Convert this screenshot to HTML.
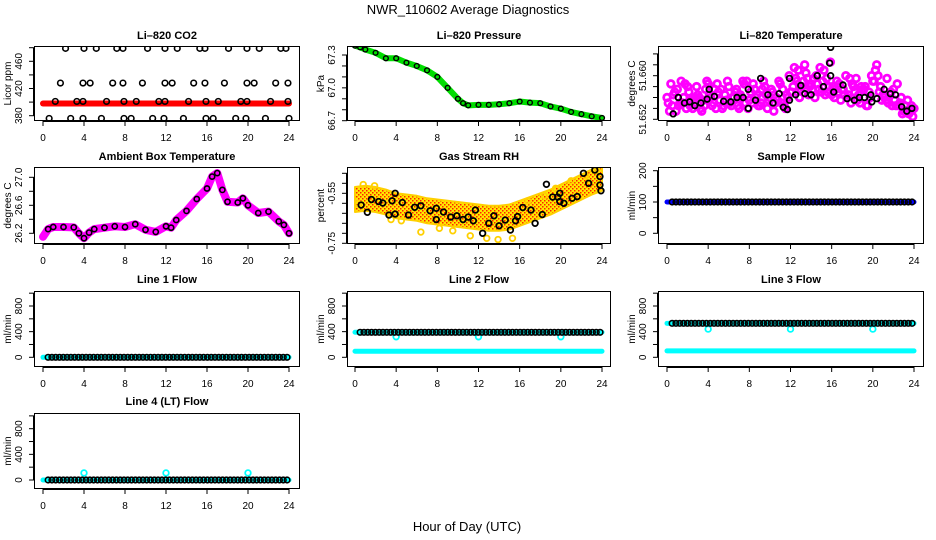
<!DOCTYPE html>
<html><head><meta charset="utf-8">
<style>
html,body{margin:0;padding:0;background:#fff;}
svg{display:block;font-family:"Liberation Sans",sans-serif;}
</style></head>
<body>
<svg id="chart" width="936" height="540" viewBox="0 0 936 540" xmlns="http://www.w3.org/2000/svg">
<defs>
<pattern id="rhpat" width="4" height="4" patternUnits="userSpaceOnUse">
<rect width="4" height="4" fill="#ffe800"/>
<rect width="1.5" height="1.5" fill="#ff2000"/>
<rect x="2" y="2" width="1.5" height="1.5" fill="#ff2000"/>
</pattern>
</defs>
<text x="468" y="14" text-anchor="middle" font-size="13">NWR_110602  Average Diagnostics</text>
<text x="467" y="531" text-anchor="middle" font-size="13">Hour of Day (UTC)</text>
</svg>
<script>
// ---------- data ----------
const co2TopHours = [2.2,4.0,5.2,7.2,7.8,10.2,11.9,13.1,15.3,15.8,18.1,19.9,21.1,23.2,23.7];
const co2HighHours = [1.7,3.9,4.6,6.8,7.8,9.7,11.9,12.6,14.7,15.8,17.7,19.9,20.6,22.7,23.9];
const co2MidHours = [1.2,3.3,3.9,6.2,7.9,9.1,11.3,11.9,14.2,15.9,17.1,19.3,19.9,22.2,23.9];
const co2LowHours = [0.6,2.7,3.9,5.7,7.9,8.6,10.7,11.8,13.7,15.9,16.6,18.8,19.8,21.7,24.0];
const co2Levels = [479, 428, 401, 376];
const co2Red = 398;

const presHours = [0,0.5,1,2,3,4,5,6,7,8,9,10,10.5,11,12,13,14,15,16,17,18,19,20,21,22,23,24];
const presVals = [67.385,67.37,67.35,67.32,67.27,67.27,67.23,67.2,67.16,67.1,67.0,66.9,66.86,66.84,66.845,66.845,66.85,66.86,66.875,66.865,66.86,66.83,66.81,66.78,66.76,66.74,66.725];

const tempA = [51.6560,51.6545,51.6575,51.6550,51.6580,51.6540,51.6565,51.6555,51.6585,51.6550,51.6570,51.6545,51.6580,51.6560,51.6540,51.6585,51.6555,51.6575,51.6545,51.6580,51.6560,51.6550,51.6585,51.6540,51.6570,51.6595,51.6575,51.6605,51.6585,51.6600,51.6570,51.6595,51.6565,51.6590,51.6575,51.6560,51.6585,51.6555,51.6575,51.6545,51.6590,51.6600,51.6565,51.6550,51.6575,51.6545,51.6535,51.6530,51.6540];
const tempB = [51.6535,51.6570,51.6550,51.6585,51.6545,51.6560,51.6540,51.6575,51.6560,51.6540,51.6575,51.6555,51.6545,51.6575,51.6560,51.6590,51.6550,51.6565,51.6575,51.6540,51.6570,51.6555,51.6575,51.6560,51.6580,51.6610,51.6590,51.6565,51.6595,51.6575,51.6610,51.6580,51.6560,51.6585,51.6565,51.6595,51.6570,51.6550,51.6580,51.6560,51.6610,51.6580,51.6555,51.6570,51.6545,51.6560,51.6535,51.6545];
const tempC = [51.6550,51.6565,51.6545,51.6560,51.6570,51.6550,51.6560,51.6545,51.6565,51.6575,51.6555,51.6565,51.6550,51.6570,51.6565,51.6550,51.6570,51.6560,51.6550,51.6565,51.6575,51.6560,51.6550,51.6565,51.6570,51.6590,51.6580,51.6595,51.6575,51.6585,51.6590,51.6570,51.6580,51.6570,51.6575,51.6565,51.6580,51.6565,51.6575,51.6570,51.6590,51.6570,51.6560,51.6565,51.6555,51.6550,51.6545,51.6540];
const tempD = [51.6585,51.6535,51.6590,51.6540,51.6555,51.6580,51.6535,51.6590,51.6545,51.6585,51.6540,51.6590,51.6560,51.6545,51.6590,51.6540,51.6585,51.6545,51.6590,51.6555,51.6535,51.6590,51.6545,51.6600,51.6615,51.6560,51.6620,51.6580,51.6560,51.6615,51.6565,51.6625,51.6575,51.6555,51.6600,51.6550,51.6595,51.6580,51.6545,51.6600,51.6620,51.6555,51.6595,51.6545,51.6585,51.6530,51.6555,51.6525];
const tempBlackHours = [0.6,1.1,1.7,2.2,2.7,3.3,3.9,4.1,4.6,5.5,6.2,6.8,7.4,7.9,7.9,8.6,9.1,9.8,10.3,10.9,11.3,11.7,11.9,11.9,12.5,13.0,13.4,14.0,14.6,15.2,15.8,15.9,15.9,16.2,17.1,17.5,18.2,18.7,19.2,19.8,19.9,20.4,21.1,21.7,22.2,22.8,23.3,23.8];
const tempBlackVals = [51.6530,51.6560,51.6550,51.6552,51.6545,51.6550,51.6557,51.6575,51.6562,51.6553,51.6552,51.6560,51.6560,51.6575,51.6540,51.6555,51.6595,51.6565,51.6550,51.6567,51.6542,51.6538,51.6555,51.6595,51.6565,51.6582,51.6567,51.6565,51.6600,51.6580,51.6623,51.6600,51.6652,51.6570,51.6583,51.6558,51.6555,51.6560,51.6560,51.6565,51.6552,51.6558,51.6575,51.6567,51.6565,51.6543,51.6535,51.6540];

const ambHours = [0,0.5,1,2,3,3.5,4,4.5,5,6,7,8,9,10,11,12,12.5,13,14,15,16,16.5,17,17.5,18,19,19.5,20,21,22,23,23.5,24];
const ambVals = [26.15,26.26,26.29,26.29,26.285,26.2,26.13,26.21,26.26,26.28,26.3,26.29,26.33,26.25,26.22,26.3,26.28,26.39,26.52,26.69,26.84,27.01,27.06,26.82,26.65,26.64,26.7,26.6,26.49,26.51,26.37,26.32,26.2];

const rhHours = [0,1,2,3,4,5,6,7,8,9,10,11,12,13,14,15,16,17,18,19,20,21,22,23,24];
const rhCenter = [-0.575,-0.570,-0.575,-0.585,-0.600,-0.605,-0.610,-0.620,-0.625,-0.630,-0.635,-0.640,-0.645,-0.650,-0.650,-0.645,-0.630,-0.615,-0.600,-0.585,-0.565,-0.545,-0.525,-0.505,-0.49];
const rhSpread = 0.05;
const rhYellowHours = [0.3,0.8,1.9,3.5,4.5,6.4,8.2,9.5,11.2,12.8,13.9,15.3,16.8,18.4,19.5,21.0,22.4,23.5];
const rhYellowVals = [-0.59,-0.515,-0.52,-0.655,-0.66,-0.705,-0.69,-0.70,-0.72,-0.73,-0.735,-0.73,-0.58,-0.56,-0.53,-0.50,-0.48,-0.455];
const rhBlackHours = [0.6,1.2,1.6,2.3,2.7,3.3,3.6,3.9,3.9,4.6,5.2,5.8,6.4,7.3,7.9,7.9,8.6,9.3,9.9,10.5,11.0,11.5,11.7,12.4,13.0,13.5,14.0,14.6,15.1,15.6,15.8,16.3,17.1,17.5,18.2,18.6,19.2,19.7,19.9,19.9,20.3,21.1,21.6,22.2,22.7,23.3,23.8,23.8,23.9];
const rhBlackVals = [-0.597,-0.626,-0.575,-0.583,-0.589,-0.637,-0.58,-0.55,-0.633,-0.587,-0.637,-0.606,-0.60,-0.62,-0.61,-0.655,-0.625,-0.645,-0.64,-0.655,-0.645,-0.66,-0.617,-0.71,-0.67,-0.64,-0.68,-0.657,-0.697,-0.66,-0.643,-0.607,-0.617,-0.67,-0.635,-0.514,-0.565,-0.565,-0.55,-0.583,-0.59,-0.57,-0.563,-0.47,-0.51,-0.457,-0.483,-0.517,-0.54];

const sampleFlow = 100;
const line1Flow = 0;
const line2High = 390, line2Low = 95, line2OutVal = 320;
const line3High = 530, line3Low = 100, line3OutVal = 440;
const line4Flow = 0, line4OutVal = 110;
const outlierHours = [4, 12, 20];
const blackStartHour = 0.5, blackStep = 0.37;
const xTicks = [0,4,8,12,16,20,24];

// ---------- layout ----------
const svg = document.getElementById('chart');
const NS = 'http://www.w3.org/2000/svg';
const cols = [{l:34,r:300,x0:43,x24:289},{l:347,r:611,x0:355,x24:602},{l:658,r:924,x0:667,x24:914}];
const rows = [{t:46,b:121,ty:39},{t:167,b:244,ty:160},{t:291,b:367,ty:283},{t:413,b:489,ty:405}];

function mk(tag, attrs, parent){
  const e = document.createElementNS(NS, tag);
  for (const k in attrs) e.setAttribute(k, attrs[k]);
  (parent||svg).appendChild(e);
  return e;
}

function panel(key, ci, ri, title, ytitle, v1, p1, v2, p2, yTickVals, yLabelVals, fmt){
  const c = cols[ci], r = rows[ri];
  const g = mk('g', {});
  
  
  const sx = h => c.x0 + (c.x24 - c.x0) * h / 24;
  const sy = v => p1 + (v - v1) * (p2 - p1) / (v2 - v1);
  const clipId = 'clip-' + key;
  const cp = mk('clipPath', {id: clipId}, g);
  mk('rect', {x:c.l, y:r.t, width:c.r-c.l, height:r.b-r.t}, cp);
  const plot = mk('g', {'clip-path': 'url(#' + clipId + ')'}, g);
  
  
  const t = mk('text', {x:(c.l+c.r)/2, y:r.ty, 'text-anchor':'middle', 'font-size':'11', 'font-weight':'bold'}, g);
  t.textContent = title;
  
  
  const xa = mk('g', {stroke:'#000', 'stroke-width':'1'}, g);
  
  
  mk('line', {x1:sx(0), x2:sx(24), y1:r.b+0.5, y2:r.b+0.5}, xa);
  xTicks.forEach(h => {
    mk('line', {x1:sx(h), x2:sx(h), y1:r.b, y2:r.b+5}, xa);
    const lt = mk('text', {x:sx(h), y:r.b+20, 'text-anchor':'middle', 'font-size':'10', stroke:'none', fill:'#000'}, xa);
    lt.textContent = h;
    
    
  });
  const ya = mk('g', {stroke:'#000', 'stroke-width':'1'}, g);
  
  
  const yl = Math.min(...yTickVals.map(sy)), yh = Math.max(...yTickVals.map(sy));
  mk('line', {x1:c.l-0.5, x2:c.l-0.5, y1:yl, y2:yh}, ya);
  yTickVals.forEach(v => mk('line', {x1:c.l-5, x2:c.l, y1:sy(v), y2:sy(v)}, ya));
  yLabelVals.forEach(v => {
    const y = sy(v);
    const lt = mk('text', {x:c.l-12, y:y, 'text-anchor':'middle', 'font-size':'10', stroke:'none', fill:'#000', transform:'rotate(-90 '+(c.l-12)+' '+y+')'}, ya);
    lt.textContent = fmt(v);
    
    
  });
  const ym = (r.t + r.b) / 2;
  const yt = mk('text', {x:c.l-23, y:ym, 'text-anchor':'middle', 'font-size':'10', transform:'rotate(-90 '+(c.l-23)+' '+ym+')'}, g);
  yt.textContent = ytitle;
  
  
  const box = mk('rect', {x:c.l+0.5, y:r.t+0.5, width:c.r-c.l-1, height:r.b-r.t-1, fill:'none', stroke:'#000', 'stroke-width':'1'}, g);
  
  
  return {sx, sy, plot};
}

function pt(P, h, v, color, r, sw, name){
  const e = mk('circle', {cx:P.sx(h), cy:P.sy(v), r:r||2.8, fill:'none', stroke:color||'#000', 'stroke-width':sw||1.6}, P.plot);
  
  
  return e;
}
function band(P, hours, vals, color, w, name){
  const pts = hours.map((h,i) => P.sx(h) + ',' + P.sy(vals[i])).join(' ');
  const e = mk('polyline', {points:pts, fill:'none', stroke:color, 'stroke-width':w, 'stroke-linejoin':'round', 'stroke-linecap':'round'}, P.plot);
  
  
  return e;
}
function blackRow(P, val, name){
  for (let h = blackStartHour; h <= 24.001; h += blackStep) pt(P, h, val, '#000', 2.8, 1.6, name);
}
const f0 = v => String(v);
const f1 = v => v.toFixed(1);
const f2 = v => v.toFixed(2);
const f3 = v => v.toFixed(3);

// 1 CO2
{
  const P = panel('co2', 0, 0, 'Li\u2013820 CO2', 'Licor ppm', 380, 115.7, 460, 61.3, [380,400,420,440,460,480], [380,420,460], f0);
  band(P, [0,24], [co2Red, co2Red], '#ff0000', 6, 'co2-red-series');
  [co2TopHours, co2HighHours, co2MidHours, co2LowHours].forEach((arr, k) => {
    arr.forEach(h => pt(P, h, co2Levels[k], '#000', 2.8, 1.6, 'co2-point'));
  });
}
// 2 Pressure
{
  const P = panel('pressure', 1, 0, 'Li\u2013820 Pressure', 'kPa', 66.7, 120.7, 67.3, 55, [66.7,66.8,66.9,67.0,67.1,67.2,67.3], [66.7,67.0,67.3], f1);
  band(P, presHours, presVals, '#00dd00', 6, 'pressure-green-series');
  presHours.forEach((h,i) => pt(P, h, presVals[i], '#000', 2.4, 1.4, 'pressure-point'));
}
// 3 Li-820 temperature
{
  const P = panel('li820-temp', 2, 0, 'Li\u2013820 Temperature', 'degrees C', 51.652, 119.3, 51.660, 75.7, [51.652,51.654,51.656,51.658,51.660,51.662,51.664], [51.652,51.660], f3);
  tempA.forEach((v,i) => pt(P, i*0.5, v, '#ff00ff', 3.3, 2.8, 'temp-magenta-point'));
  tempB.forEach((v,i) => pt(P, 0.25 + i*0.5, v, '#ff00ff', 3.3, 2.8, 'temp-magenta-point'));
  tempC.forEach((v,i) => pt(P, 0.125 + i*0.5, v, '#ff00ff', 3.3, 2.8, 'temp-magenta-point'));
  tempD.forEach((v,i) => pt(P, 0.375 + i*0.5, v, '#ff00ff', 3.3, 2.8, 'temp-magenta-point'));
  tempBlackHours.forEach((h,i) => pt(P, h, tempBlackVals[i], '#000', 2.8, 1.8, 'temp-black-point'));
}
// 4 Ambient
{
  const P = panel('ambient-temp', 0, 1, 'Ambient Box Temperature', 'degrees C', 26.2, 233.3, 27.0, 177.3, [26.2,26.4,26.6,26.8,27.0], [26.2,26.6,27.0], f1);
  band(P, ambHours, ambVals, '#ff00ff', 8, 'ambient-magenta-series');
  ambHours.forEach((h,i) => { if (h > 0) pt(P, h, ambVals[i], '#000', 2.6, 1.6, 'ambient-point'); });
}
// 5 Gas stream RH
{
  const P = panel('gas-rh', 1, 1, 'Gas Stream RH', 'percent', -0.55, 193.3, -0.75, 243.3, [-0.47,-0.51,-0.55,-0.59,-0.63,-0.67,-0.71,-0.75], [-0.55,-0.75], f2);
  const up = rhHours.map((h,i) => P.sx(h) + ',' + P.sy(rhCenter[i] + rhSpread));
  const dn = rhHours.map((h,i) => P.sx(h) + ',' + P.sy(rhCenter[i] - rhSpread)).reverse();
  const poly = mk('polygon', {points: up.concat(dn).join(' '), fill:'url(#rhpat)', stroke:'#ffd000', 'stroke-width':'2', 'stroke-linejoin':'round'}, P.plot);
  
  
  rhYellowHours.forEach((h,i) => pt(P, h, rhYellowVals[i], '#ffd000', 2.8, 1.8, 'rh-yellow-point'));
  rhBlackHours.forEach((h,i) => pt(P, h, rhBlackVals[i], '#000', 2.8, 1.8, 'rh-point'));
}
// 6 Sample flow
{
  const P = panel('sample-flow', 2, 1, 'Sample Flow', 'ml/min', 0, 233.3, 200, 170.7, [0,50,100,150,200], [0,100,200], f0);
  band(P, [0,24], [sampleFlow, sampleFlow], '#0000ff', 5, 'sample-flow-series');
  blackRow(P, sampleFlow, 'sample-flow-point');
}
// 7 Line 1
{
  const P = panel('line1-flow', 0, 2, 'Line 1 Flow', 'ml/min', 0, 357.3, 800, 306, [0,200,400,600,800,1000], [0,400,800], f0);
  band(P, [0,24], [line1Flow, line1Flow], '#00ffff', 5, 'line1-cyan-series');
  blackRow(P, line1Flow, 'line1-point');
}
// 8 Line 2
{
  const P = panel('line2-flow', 1, 2, 'Line 2 Flow', 'ml/min', 0, 357.3, 800, 306, [0,200,400,600,800,1000], [0,400,800], f0);
  band(P, [0,24], [line2Low, line2Low], '#00ffff', 5, 'line2-low-series');
  band(P, [0,24], [line2High, line2High], '#00ffff', 5, 'line2-high-series');
  outlierHours.forEach(h => pt(P, h, line2OutVal, '#00ffff', 2.8, 1.8, 'line2-outlier'));
  blackRow(P, line2High, 'line2-point');
}
// 9 Line 3
{
  const P = panel('line3-flow', 2, 2, 'Line 3 Flow', 'ml/min', 0, 357.3, 800, 306, [0,200,400,600,800,1000], [0,400,800], f0);
  band(P, [0,24], [line3Low, line3Low], '#00ffff', 5, 'line3-low-series');
  band(P, [0,24], [line3High, line3High], '#00ffff', 5, 'line3-high-series');
  outlierHours.forEach(h => pt(P, h, line3OutVal, '#00ffff', 2.8, 1.8, 'line3-outlier'));
  blackRow(P, line3High, 'line3-point');
}
// 10 Line 4
{
  const P = panel('line4-flow', 0, 3, 'Line 4 (LT) Flow', 'ml/min', 0, 480, 800, 428.7, [0,200,400,600,800,1000], [0,400,800], f0);
  band(P, [0,24], [line4Flow, line4Flow], '#00ffff', 5, 'line4-cyan-series');
  outlierHours.forEach(h => pt(P, h, line4OutVal, '#00ffff', 2.8, 1.8, 'line4-outlier'));
  blackRow(P, line4Flow, 'line4-point');
}
</script>
</body></html>
